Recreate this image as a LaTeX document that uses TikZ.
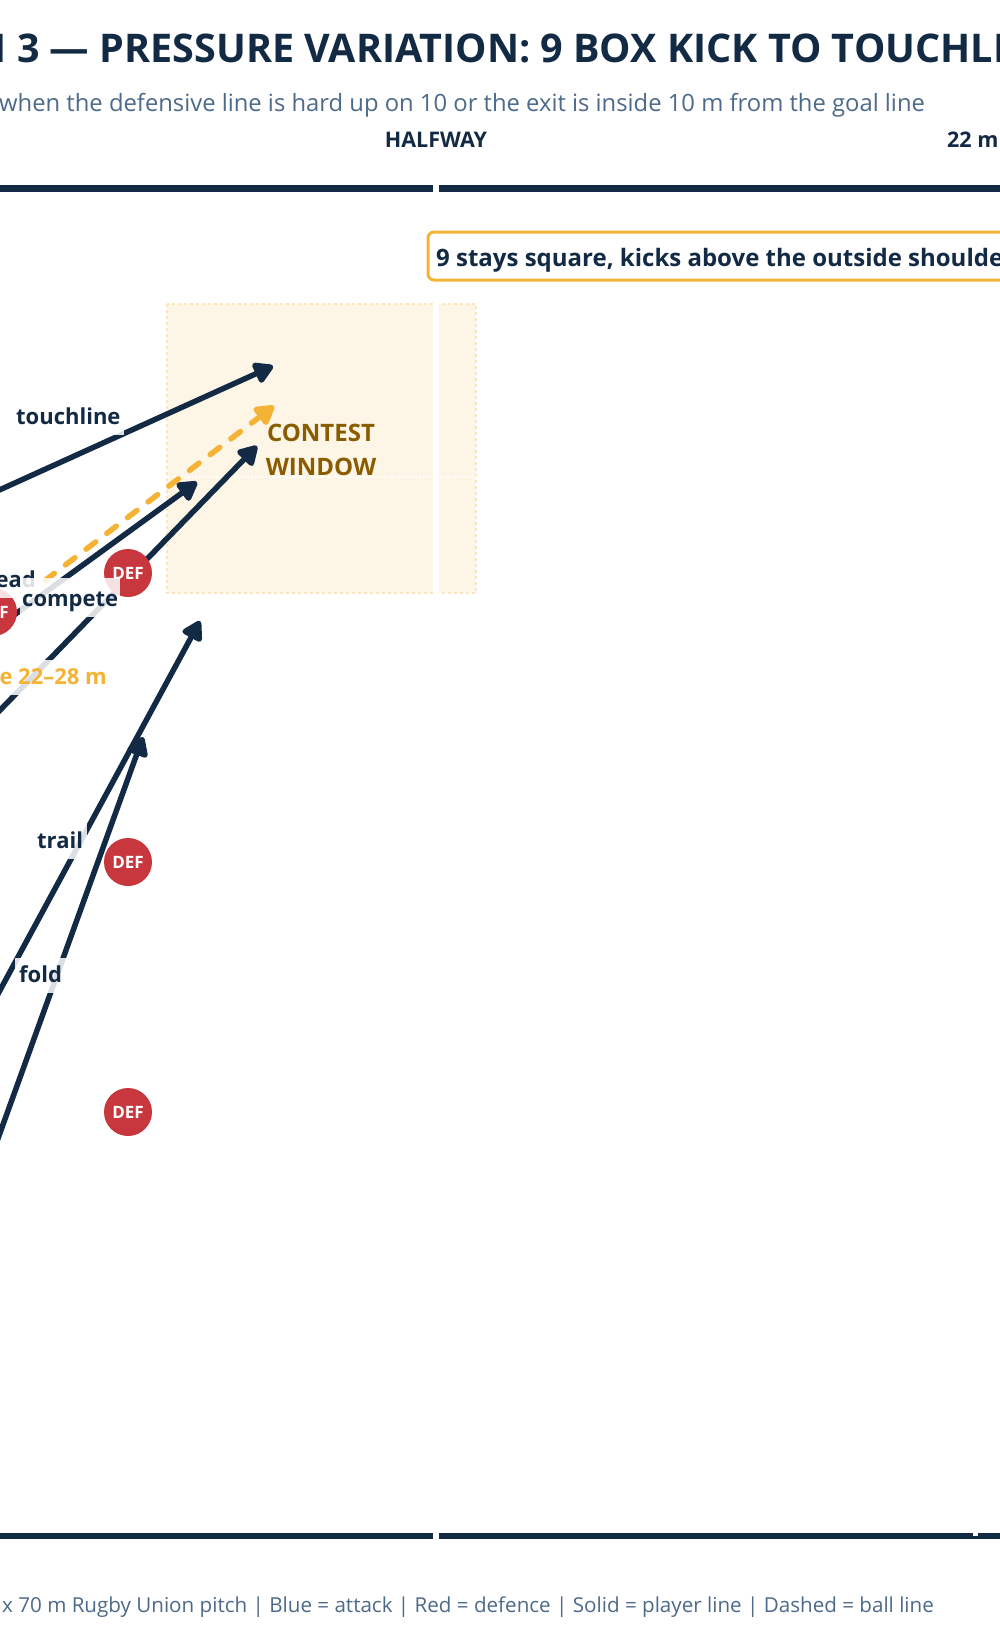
\documentclass[tikz,border=0pt]{standalone}
\usepackage{fontspec}
\setmainfont{Open Sans}
\usetikzlibrary{arrows.meta}
\definecolor{navy}{HTML}{132A45}
\definecolor{defred}{HTML}{C8373D}
\definecolor{gold}{HTML}{F5B335}
\definecolor{slate}{HTML}{4D6A8A}
\definecolor{winfill}{HTML}{FDF5E6}
\definecolor{winedge}{HTML}{FBE5C0}
\definecolor{wintext}{HTML}{8A5C00}
\begin{document}
\begin{tikzpicture}[x=1pt,y=-1pt,
  fs/.style={font=\fontsize{#1}{#1}\selectfont},
  fsb/.style={font=\bfseries\fontsize{#1}{#1}\selectfont},
  playerline/.style={line width=5.5pt, draw=navy, -{Triangle[length=22pt,width=24pt,round]}},
  ballline/.style={line width=5.5pt, draw=gold, line cap=round, dash pattern=on 12pt off 14pt, -{Triangle[length=22pt,width=24pt,round]}},
  defender/.style={circle, fill=defred, minimum size=48pt, inner sep=0pt, text=white, fsb=17},
  lbl/.style={fill=white, fill opacity=0.85, text opacity=1, text=navy, fsb=22, inner xsep=4pt, inner ysep=4pt, text height=20pt, text depth=7pt},
  touch/.style={line width=6.5pt, draw=navy},
  whiteline/.style={line width=6pt, draw=white}]
\useasboundingbox (0,0) rectangle (1000,1652);
\clip (0,0) rectangle (1000,1652);
\fill[white] (0,0) rectangle (1000,1652);

% titles
\node[anchor=base west, inner sep=0pt, text=navy, fsb=39.5] (title) at (17,62) {\llap{OPTION }3 — PRESSURE VARIATION: 9 BOX KICK TO TOUCHLINE};
\node[anchor=base west, inner sep=0pt, text=slate, fs=23.8] (subtitle) at (-1,111) {\llap{Use }when the defensive line is hard up on 10 or the exit is inside 10 m from the goal line};
\node[anchor=base, inner sep=0pt, text=navy, fsb=21.5] (halfway) at (436,147) {HALFWAY};
\node[anchor=base west, inner sep=0pt, text=navy, fsb=21.5] (twentytwo) at (947,147) {22 m};

% contest window
\draw[fill=winfill, draw=winedge, line width=2pt, dashed] (167,304) rectangle (476,593);
\draw[white, line width=1.5pt, dotted] (167,477) -- (476,477);
\node[anchor=base, text=wintext, fsb=24, inner sep=0pt] (window1) at (321,441) {CONTEST};
\node[anchor=base, text=wintext, fsb=24, inner sep=0pt] (window2) at (321,475) {WINDOW};

% touchlines and halfway
\draw[touch] (-10,188.5) -- (1010,188.5);
\draw[touch] (-10,1536) -- (1010,1536);
\draw[whiteline] (436,180) -- (436,1545);
\fill[white] (973,1533) rectangle (978,1536);

% callout
\draw[draw=gold, line width=3pt, fill=white, rounded corners=6pt] (428,232) rectangle (1100,280);
\node[anchor=base west, inner sep=0pt, text=navy, fsb=24] (callout) at (436,266) {9 stays square, kicks above the outside shoulder};

% coordinates
\coordinate (aS) at (-100,535);  \coordinate (aT) at (273,366);
\coordinate (bS) at (-100,691);  \coordinate (bT) at (274,406);
\coordinate (cS) at (-100,698);  \coordinate (cT) at (197,482);
\coordinate (dS) at (-100,813);  \coordinate (dT) at (257,446);
\coordinate (eS) at (-60,1101);  \coordinate (eT) at (200,621);
\coordinate (fS) at (-60,1299);  \coordinate (fT) at (143,737);

% lines
\draw[playerline] (aS) -- (aT);
\draw[ballline] (bS) -- (bT);
\draw[playerline] (cS) -- (cT);
\draw[playerline] (dS) -- (dT);
\draw[playerline] (eS) -- (eT);
\draw[playerline] (fS) -- (fT);

% defenders
\node[defender] (d1) at (128,573) {DEF};
\node[defender] (d2) at (-7,612) {DEF};
\node[defender] (d3) at (128,862) {DEF};
\node[defender] (d4) at (128,1112) {DEF};

% labels
\node[lbl, anchor=base west] (ltouch) at (12,424) {touchline};
\node[lbl, anchor=base east] (llead) at (40,587) {lead};
\node[lbl, anchor=base west, inner xsep=2pt, text height=24pt] (lcomp) at (20,606) {compete};
\node[lbl, anchor=base east, text=gold] (lrange) at (111,684) {range 22–28 m};
\node[lbl, anchor=base west] (ltrail) at (33,848) {trail};
\node[lbl, anchor=base west] (lfold) at (15,982) {fold};

% footer
\node[anchor=base west, inner sep=0pt, text=slate, fs=20.6] (footer) at (2,1612) {x 70 m Rugby Union pitch | Blue = attack | Red = defence | Solid = player line | Dashed = ball line};
\end{tikzpicture}
\end{document}
